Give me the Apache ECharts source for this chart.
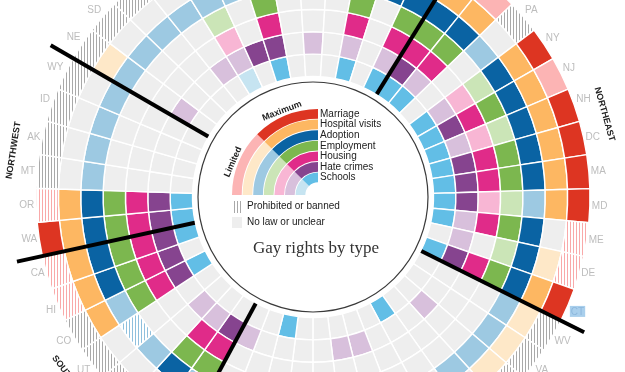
<!DOCTYPE html>
<html><head><meta charset="utf-8">
<style>html,body{margin:0;padding:0;background:#fff}#c{width:625px;height:372px}</style>
<script src="https://cdn.jsdelivr.net/npm/echarts@6/dist/echarts.min.js"></script>
</head><body><div id="c"></div>
<script>
// States, clockwise from the Northeast boundary
const states = ['VT','RI','PA','NY','NJ','NH','DC','MA','MD','ME','DE','CT',
  'WV','VA','TX','TN','NC','SC','LA','KY','MS','GA','AR','AL','FL',
  'NV','NM','AZ','UT','CO','HI','CA',
  'WA','OR','MT','AK','ID','WY',
  'NE','SD','ND','KS','WI','MO','MN','OK','OH','IN','IL','MI','IA'];
const regionNames = ['NORTHEAST','SOUTH','SOUTHWEST','NORTHWEST','MIDWEST'];
const regionStarts = [0, 12, 25, 32, 38];
const rightTypes = ['Marriage','Hospital visits','Adoption','Employment','Housing','Hate crimes','Schools'];
const highlighted = 'CT';
// codes: 0 no law, 1 limited, 2 maximum, 3 prohibited, 4 limited but banned
const schools    = [2,2,0,2,2,2,2,2,2,2,0,2, 0,0,0,0,2,0,0,0,0,0,2,0,0, 0,0,0,0,2,0,2, 2,2,0,0,0,0, 0,0,0,0,1,0,2,0,0,0,2,0,2];
const hate       = [2,1,0,1,2,1,2,2,2,1,1,2, 0,0,1,0,0,0,1,1,0,0,0,0,1, 2,1,1,0,2,2,2, 2,2,0,0,0,0, 1,0,0,1,1,2,2,0,1,0,1,0,1];
const housing    = [2,2,0,1,2,1,2,2,1,2,0,2, 0,0,0,0,0,0,0,0,0,0,0,0,0, 2,2,0,0,2,2,2, 2,2,0,0,0,0, 0,0,0,0,1,0,2,0,0,0,2,0,2];
const employment = [2,2,0,1,2,1,2,2,1,2,1,2, 0,0,0,0,0,0,0,0,0,0,0,0,0, 2,2,0,0,2,2,2, 2,2,0,0,0,0, 0,0,0,0,1,0,2,0,0,0,2,0,2];
const adoption   = [2,2,1,2,2,2,2,2,1,2,2,2, 1,1,1,1,0,0,0,0,3,0,0,0,1, 1,2,1,4,1,2,2, 2,2,1,1,1,1, 1,1,1,1,1,1,1,0,1,1,2,2,2];
const hospital   = [2,2,0,2,2,2,2,2,2,0,1,2, 1,1,1,0,0,0,0,0,0,0,0,0,0, 1,0,0,0,2,2,2, 2,2,0,0,0,0, 1,0,0,0,1,0,0,0,0,0,2,0,2];
const marriage   = [2,1,3,2,1,2,2,2,2,4,4,2, 3,3,3,3,3,3,3,3,3,3,3,3,3, 4,0,3,3,3,4,4, 2,4,3,3,3,3, 3,3,3,3,4,3,3,3,3,3,1,3,2];

// inner -> outer ring order
const rings = [schools, hate, housing, employment, adoption, hospital, marriage];
const maxColors = ['#62bee6','#86448f','#e02b89','#7cb74f','#0a63a3','#fdb762','#dd3522'];
const limColors = ['#c6e4f1','#d8c0dc','#f8b6d4','#cbe5b7','#9dc9e2','#fee8c8','#fcb4b4'];
const stripeLine = ['#9fd3ea','#c9a9cf','#f29cc4','#b3d99a','#8fc0dd','#f5d6a6','#f9a9a9'];

function stripe(color) {
  const c = document.createElement('canvas'); c.width = 3; c.height = 3;
  const g = c.getContext('2d'); g.fillStyle = '#fff'; g.fillRect(0,0,3,3);
  g.fillStyle = color; g.fillRect(0,0,1,3);
  return {image: c, repeat: 'repeat'};
}
const grayStripe = stripe('#a9a9a9');
function cellColor(k, code) {
  if (code === 2) return maxColors[k];
  if (code === 1) return limColors[k];
  if (code === 3) return grayStripe;
  if (code === 4) return stripe(stripeLine[k]);
  return '#eeeeee';
}

const CX = 313, CY = 197, START = 31.8, STEP = 360 / states.length;

const sepColors = [];
for (let i = 0; i <= states.length; i++) sepColors.push(regionStarts.includes(i % states.length) ? '#000' : 'rgba(0,0,0,0)');

const graphics = [];
graphics.push({type:'circle', shape:{cx:CX, cy:CY, r:115}, style:{fill:'none', stroke:'#3a3a3a', lineWidth:1.2}, silent:true});
// region labels
regionNames.forEach((name, i) => {
  const count = (i + 1 < regionStarts.length ? regionStarts[i+1] : states.length) - regionStarts[i];
  const phi = (START + (regionStarts[i] + count / 2) * STEP) % 360;
  const rad = phi * Math.PI / 180;
  const cw = (phi > 90 && phi < 270) ? phi - 180 : phi;
  graphics.push({type:'text', x: CX + 303 * Math.sin(rad), y: CY - 303 * Math.cos(rad),
    rotation: -cw * Math.PI / 180, silent:true,
    style:{text:name, font:'bold 9px "Liberation Sans", Arial, sans-serif', fill:'#222', align:'center', verticalAlign:'middle'}});
});
// legend arcs
const LCX = 318, LCY = 195, BAND = 10.6, LOUT = 86;
rightTypes.forEach((t, k) => {
  const ri = 6 - k;
  const r = LOUT - k * BAND, r0 = r - BAND + 0.9;
  graphics.push({type:'sector', silent:true, shape:{cx:LCX, cy:LCY, r0:r0, r:r, startAngle:Math.PI, endAngle:1.25*Math.PI, clockwise:true}, style:{fill:limColors[ri]}});
  graphics.push({type:'sector', silent:true, shape:{cx:LCX, cy:LCY, r0:r0, r:r, startAngle:1.25*Math.PI, endAngle:1.5*Math.PI, clockwise:true}, style:{fill:maxColors[ri]}});
  graphics.push({type:'text', silent:true, x:320, y:LCY - r + BAND/2 - 0.3,
    style:{text:t, font:'10px "Liberation Sans", Arial, sans-serif', fill:'#222', verticalAlign:'middle'}});
});
graphics.push({type:'text', silent:true, x:233, y:162, rotation:1.16,
  style:{text:'Limited', font:'bold 9px "Liberation Sans", Arial, sans-serif', fill:'#222', align:'center', verticalAlign:'middle'}});
graphics.push({type:'text', silent:true, x:282, y:111, rotation:0.36,
  style:{text:'Maximum', font:'bold 9px "Liberation Sans", Arial, sans-serif', fill:'#222', align:'center', verticalAlign:'middle'}});
graphics.push({type:'rect', silent:true, shape:{x:232, y:201, width:10, height:12}, style:{fill:grayStripe}});
graphics.push({type:'text', silent:true, x:247, y:206.5, style:{text:'Prohibited or banned', font:'10px "Liberation Sans", Arial, sans-serif', fill:'#222', verticalAlign:'middle'}});
graphics.push({type:'rect', silent:true, shape:{x:232, y:217, width:10, height:11}, style:{fill:'#eeeeee'}});
graphics.push({type:'text', silent:true, x:247, y:222.5, style:{text:'No law or unclear', font:'10px "Liberation Sans", Arial, sans-serif', fill:'#222', verticalAlign:'middle'}});
graphics.push({type:'text', silent:true, x:316, y:249, style:{text:'Gay rights by type', font:'17px "Liberation Serif", "Times New Roman", serif', fill:'#333', align:'center', verticalAlign:'middle'}});

const chart = echarts.init(document.getElementById('c'), null, {renderer:'canvas'});
chart.setOption({
  animation: false,
  backgroundColor: '#fff',
  textStyle: {fontFamily: '"Liberation Sans", Arial, sans-serif'},
  polar: [
    {center:[CX, CY], radius:[120.5, 277]},
    {center:[CX, CY], radius:[121, 303]}
  ],
  angleAxis: [
    {polarIndex:0, type:'category', data:states, startAngle:90 - START, clockwise:true,
     axisLine:{show:false}, axisTick:{show:false}, splitLine:{show:false},
     axisLabel:{interval:0, margin:2, color:'#bdbdbd', fontSize:10,
       formatter: v => v === highlighted ? '{hl|' + v + '}' : v,
       rich:{hl:{backgroundColor:'#a9cfec', color:'#8db7dc', fontSize:10, padding:[1,1,0,1]}}}},
    {polarIndex:1, type:'category', data:states, startAngle:90 - START, clockwise:true, z:10,
     axisLine:{show:false}, axisTick:{show:false, interval:0}, axisLabel:{show:false, interval:0},
     splitLine:{show:true, interval:0, lineStyle:{color:sepColors, width:4}}}
  ],
  radiusAxis: [
    {polarIndex:0, type:'value', min:0, max:7, axisLine:{show:false}, axisTick:{show:false}, axisLabel:{show:false}, splitLine:{show:false}},
    {polarIndex:1, type:'value', min:0, max:1, axisLine:{show:false}, axisTick:{show:false}, axisLabel:{show:false}, splitLine:{show:false}}
  ],
  series: rings.map((arr, k) => ({
    type:'bar', coordinateSystem:'polar', polarIndex:0, stack:'rights', name:rightTypes[6-k],
    barCategoryGap:'0%', silent:true,
    itemStyle:{borderColor:'#fff', borderWidth:1.4},
    data: arr.map(code => ({value:1, itemStyle:{color:cellColor(k, code)}}))
  })),
  graphic: graphics
});
</script>
</body></html>
